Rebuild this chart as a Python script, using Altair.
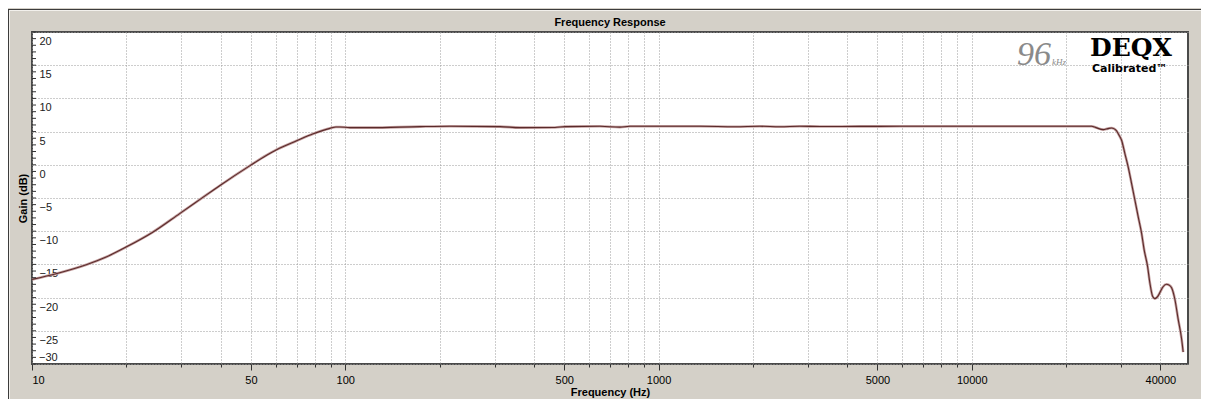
import altair as alt
import pandas as pd

# ---- data ----
freq_hz = [10, 12.02, 14.98, 17.10, 20.10, 24.15, 29.68, 34.38, 39.82, 49.65,
           56.12, 60.39, 69.97, 79.05, 89.40, 93.40, 96.18, 103.5, 119.9, 173.2,
           215.9, 311.8, 361.1, 467.0, 502.8, 650.1, 752.9, 810.3, 1356, 1754,
           2107, 2441, 2827, 3275, 5896, 12290, 22960, 24130, 24900, 26270,
           27190, 27940, 28420, 28990, 29480, 30070, 30810, 31560, 32360, 33160,
           33970, 34830, 35500, 36400, 37030, 37770, 38410, 39120, 39850, 40740,
           41860, 42570, 43420, 44490, 45580, 46740, 47290]
gain_db = [-17.26, -16.36, -15.01, -13.97, -12.32, -10.22, -7.31, -5.21, -3.11, -0.12,
           1.45, 2.28, 3.62, 4.67, 5.49, 5.7, 5.7, 5.6, 5.6, 5.75,
           5.8, 5.75, 5.6, 5.62, 5.75, 5.8, 5.68, 5.8, 5.8, 5.74,
           5.8, 5.74, 5.8, 5.76, 5.8, 5.8, 5.8, 5.8, 5.6, 5.3,
           5.45, 5.55, 5.45, 5.1, 4.5, 3.7, 1.7, -0.3, -2.8, -5.3,
           -7.8, -10.3, -12.8, -15.3, -17.8, -19.8, -20.15, -19.9, -19.25, -18.4,
           -18.0, -18.1, -18.5, -20.25, -23.25, -26.2, -28.2]

x_major = [10, 50, 100, 500, 1000, 5000, 10000, 40000]
x_grid = [10, 20, 30, 40, 50, 60, 70, 80, 90,
          100, 200, 300, 400, 500, 600, 700, 800, 900,
          1000, 2000, 3000, 4000, 5000, 6000, 7000, 8000, 9000,
          10000, 20000, 30000, 40000]
y_major = [-30, -25, -20, -15, -10, -5, 0, 5, 10, 15, 20]
y_bottom_label = [-30]
y_minor = list(range(-30, 21))

x_domain = [10, 49000]
y_domain = [-30, 20]

df = pd.DataFrame({"freq": freq_hz, "gain": gain_db})

FONT = "Liberation Sans"
GRID = "#9a9a9a"

major_test = "indexof([" + ",".join(str(v) for v in x_major) + "], datum.value) >= 0"

x_axis = alt.Axis(
    values=x_grid,
    labelExpr=f"{major_test} ? format(datum.value, 'd') : ''",
    labelOverlap=False,
    tickSize={"condition": {"test": major_test, "value": 6}, "value": 3},
    tickColor="#333333",
    domain=False,
    grid=True, gridDash=[1, 2], gridColor=GRID, gridWidth=1,
    labelFont=FONT, labelFontSize=11, labelColor="#000000", labelPadding=4,
    title="Frequency (Hz)", titleFont=FONT, titleFontSize=11, titleFontWeight="bold",
    titleColor="#000000", titleY=28, titleBaseline="middle",
)

y_axis = alt.Axis(
    values=y_major,
    labelExpr="datum.value <= -30 ? '' : datum.label",
    ticks=False, domain=False,
    labelAlign="left", labelPadding=-7, labelBaseline="top", labelOffset=3.5,
    labelOverlap=False,
    labelFont=FONT, labelFontSize=11, labelColor="#202020",
    grid=True, gridDash=[1, 2], gridColor=GRID, gridWidth=1,
    title="Gain (dB)", titleFont=FONT, titleFontSize=11, titleFontWeight="bold",
    titleColor="#000000", titleX=-9, titleY=166, titleAngle=270,
    titleBaseline="middle", titleAlign="center",
)

xs = alt.Scale(type="log", domain=x_domain)
ys = alt.Scale(domain=y_domain)

halo = alt.Chart(df).mark_line(color="#c4a0a0", strokeWidth=2.6, interpolate="monotone").encode(
    x=alt.X("freq:Q", scale=xs, axis=x_axis, title="Frequency (Hz)"),
    y=alt.Y("gain:Q", scale=ys, axis=y_axis, title="Gain (dB)"),
)
core = alt.Chart(df).mark_line(color="#5a2a2a", strokeWidth=1.1, interpolate="monotone").encode(
    x=alt.X("freq:Q", scale=xs, axis=x_axis, title="Frequency (Hz)"),
    y=alt.Y("gain:Q", scale=ys, axis=y_axis, title="Gain (dB)"),
)

minor_ticks = alt.Chart(pd.DataFrame({"v": y_minor})).mark_rule(color="#333333", strokeWidth=1).encode(
    y=alt.Y("v:Q", scale=ys, axis=y_axis, title="Gain (dB)"),
    x=alt.value(0), x2=alt.value(4),
)

bottom_label = alt.Chart(pd.DataFrame({"v": y_bottom_label})).mark_text(
    font=FONT, fontSize=11, color="#202020", align="left", baseline="bottom", dx=7, dy=-1
).encode(y=alt.Y("v:Q", scale=ys, axis=y_axis, title="Gain (dB)"), x=alt.value(0),
         text=alt.Text("v:Q", format="d"))

one = alt.Data(values=[{"a": 1}])

frame_dark_h = alt.Chart(one).mark_rule(color="#3c3c3c", strokeWidth=1).encode(
    x=alt.value(-24), x2=alt.value(1169), y=alt.value(-22.5))
frame_light_h = alt.Chart(one).mark_rule(color="#f2f0ec", strokeWidth=1).encode(
    x=alt.value(-23), x2=alt.value(1169), y=alt.value(-21.5))
frame_dark_v = alt.Chart(one).mark_rule(color="#3c3c3c", strokeWidth=1).encode(
    x=alt.value(-23.5), y=alt.value(-23), y2=alt.value(367))
frame_light_v = alt.Chart(one).mark_rule(color="#f2f0ec", strokeWidth=1).encode(
    x=alt.value(-22.5), y=alt.value(-22), y2=alt.value(367))

title_txt = alt.Chart(pd.DataFrame({"t": ["Frequency Response"]})).mark_text(
    font=FONT, fontSize=11, fontWeight="bold", color="#000000",
    align="center", baseline="middle").encode(text="t:N", x=alt.value(578), y=alt.value(-9))

logo_96 = alt.Chart(pd.DataFrame({"t": ["96"]})).mark_text(
    font="Liberation Serif", fontSize=34, fontStyle="italic", color="#8a8a8a",
    align="left", baseline="alphabetic").encode(text="t:N", x=alt.value(985), y=alt.value(33))
logo_khz = alt.Chart(pd.DataFrame({"t": ["kHz"]})).mark_text(
    font="Liberation Serif", fontSize=9, fontStyle="italic", color="#8a8a8a",
    align="left", baseline="alphabetic").encode(text="t:N", x=alt.value(1020), y=alt.value(32.5))
logo_deqx = alt.Chart(pd.DataFrame({"t": ["DEQX"]})).mark_text(
    font="DejaVu Serif", fontSize=25, fontWeight="bold", color="#000000",
    align="left", baseline="alphabetic").encode(text="t:N", x=alt.value(1058), y=alt.value(24))
logo_cal = alt.Chart(pd.DataFrame({"t": ["Calibrated™"]})).mark_text(
    font="DejaVu Sans", fontSize=11, fontWeight="bold", color="#000000",
    align="left", baseline="alphabetic").encode(text="t:N", x=alt.value(1060), y=alt.value(40))

chart = alt.layer(
    halo, core, minor_ticks, bottom_label, title_txt,
    logo_96, logo_khz, logo_deqx, logo_cal,
    frame_dark_h, frame_light_h, frame_dark_v, frame_light_v,
).properties(
    width=1156, height=332,
    autosize=alt.AutoSizeParams(type="none"),
    padding={"left": 24, "top": 24, "right": 13, "bottom": 35},
    background="#d4d0c8",
).configure_view(fill="white", stroke="#4a4a4a", strokeWidth=2)

chart.save("out.html", embed_options={"renderer": "svg", "actions": False})
